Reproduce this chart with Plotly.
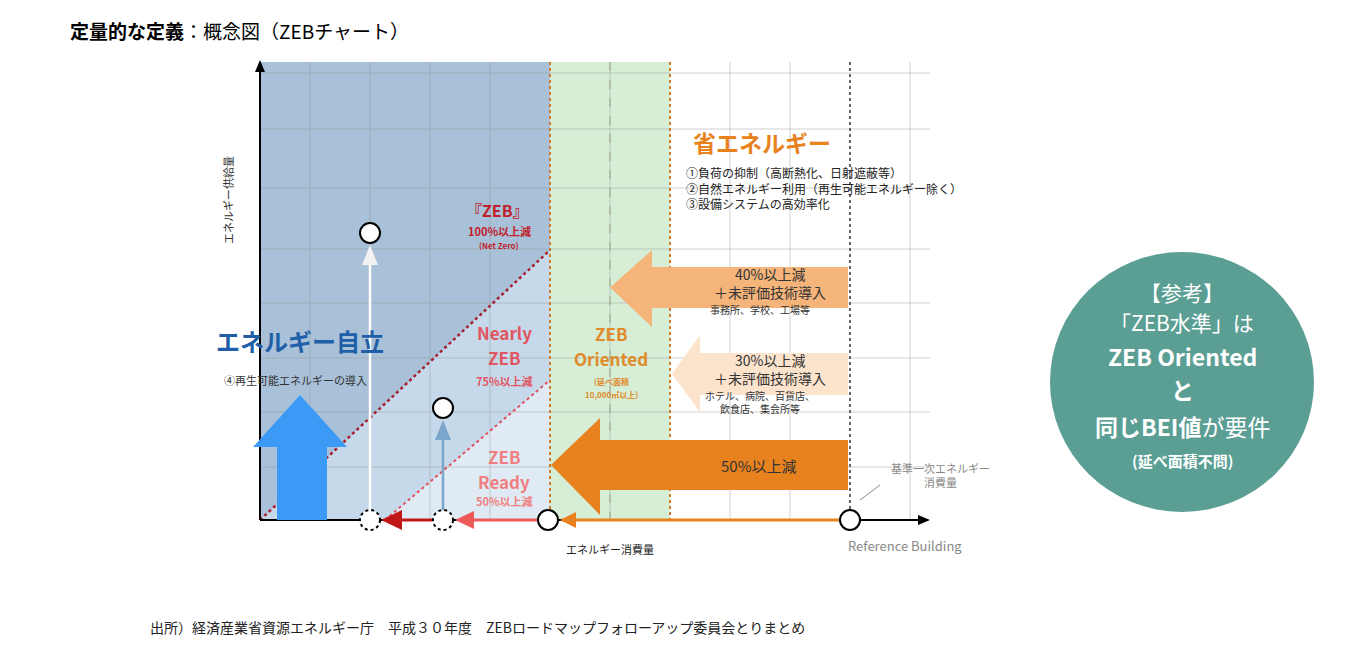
import plotly.graph_objects as go

# 概念図の座標系（画面ピクセル相当）
ORIGIN = (260, 520)
REF_X = 850
ZEB_X = 550
ORIENTED_X = 670
GRID_X = [310, 370, 430, 490, 610, 730, 790, 910]
GRID_Y = [73, 129, 188, 249, 303, 358, 412, 467]

# 白丸（エネルギー消費量・供給量の点）
points_x = [370, 443, 548, 850]
points_y = [233, 408, 520, 520]
dotted_x = [370, 443]

# 省エネ矢印: (先端x, 胴y上, 胴y下, 頭x, 頭y上, 頭y下, 色, ラベル, 用途)
save_arrows = [
    (610, 267, 308, 652, 250, 327, "#f4b47a", ["40%以上減", "＋未評価技術導入"], "事務所、学校、工場等"),
    (672, 353, 395, 700, 335, 412, "#fce3cc", ["30%以上減", "＋未評価技術導入"], "ホテル、病院、百貨店、<br>飲食店、集会所等"),
    (551, 440, 490, 600, 418, 515, "#e8821e", ["50%以上減"], ""),
]

FONT = "Noto Sans CJK JP"
fig = go.Figure()
shapes = []
ann = []

def rect(x0, y0, x1, y1, color):
    shapes.append(dict(type="rect", x0=x0, y0=y0, x1=x1, y1=y1, fillcolor=color, line_width=0, layer="below"))

def poly(pts, color, layer="above"):
    d = "M " + " L ".join(f"{x},{y}" for x, y in pts) + " Z"
    shapes.append(dict(type="path", path=d, fillcolor=color, line_width=0, layer=layer))

def line(x0, y0, x1, y1, color, width=1, dash="solid"):
    shapes.append(dict(type="line", x0=x0, y0=y0, x1=x1, y1=y1, line=dict(color=color, width=width, dash=dash)))

def text(x, y, s, size=12, color="#333", bold=False, **kw):
    if bold:
        s = f"<b>{s}</b>"
    ann.append(dict(x=x, y=y, text=s, showarrow=False, font=dict(family=FONT, size=size, color=color), **kw))

ox, oy = ORIGIN
top = 62
# 背景領域
rect(ox, top, ZEB_X, oy, "#a8c0d8")
poly([(ox, oy), (ZEB_X, 250), (ZEB_X, oy)], "#c6d9ea", layer="below")
poly([(385, oy), (ZEB_X, 380), (ZEB_X, oy)], "#dfeaf4", layer="below")
rect(ZEB_X, top, ORIENTED_X, oy, "#d6eed6")

# グリッド
for gx in GRID_X:
    line(gx, top, gx, oy, "rgba(150,150,150,0.45)", 1)
for gy in GRID_Y:
    line(ox, gy, 930, gy, "rgba(150,150,150,0.45)", 1)
line(610, top, 610, oy, "rgba(140,140,110,0.7)", 1, "dash")
line(ZEB_X, top, ZEB_X, oy, "#d07a2a", 2, "dot")
line(ORIENTED_X, top, ORIENTED_X, oy, "#d07a2a", 2, "dot")
line(REF_X, top, REF_X, oy, "#666", 2, "dot")

# 対角線
line(ox, oy, ZEB_X, 250, "#a82030", 2.5, "dot")
line(385, oy, ZEB_X, 380, "#e05060", 2, "dot")

# 軸
line(ox, oy, 920, oy, "black", 2)
line(ox, oy, ox, top + 8, "black", 2)
poly([(ox, top - 2), (ox - 5, top + 10), (ox + 5, top + 10)], "black")
poly([(930, oy), (918, oy - 5), (918, oy + 5)], "black")

# 消費量削減の矢印（横軸上）
line(562, oy, REF_X - 10, oy, "#e8821e", 3)
poly([(560, oy), (576, oy - 8), (576, oy + 8)], "#e8821e")
line(465, oy, 537, oy, "#ee5a5a", 3)
poly([(455, oy), (474, oy - 9), (474, oy + 9)], "#ee5a5a")
line(392, oy, 432, oy, "#c01818", 3)
poly([(381, oy), (402, oy - 10), (402, oy + 10)], "#c01818")

# 供給量の矢印（縦）
line(370, 510, 370, 262, "white", 2.5)
poly([(370, 245), (362, 265), (378, 265)], "#f2f2f2")
line(443, 510, 443, 435, "#7ba6cc", 2.5)
poly([(443, 420), (435, 440), (451, 440)], "#7ba6cc")

# 大きい青矢印
poly([(277, oy), (277, 447), (253, 447), (300, 395), (347, 447), (327, 447), (327, oy)], "#3a9af6")

# 省エネ矢印
for tip, sy0, sy1, hx, hy0, hy1, col, lab, sub in save_arrows:
    poly([(REF_X - 2, sy0), (hx, sy0), (hx, hy0), (tip, (sy0 + sy1) / 2), (hx, hy1), (hx, sy1), (REF_X - 2, sy1)], col)
    ys = (sy0 + sy1) / 2
    if len(lab) == 2:
        text(770, ys - 14, lab[0], 14, "#333")
        text(770, ys + 4, lab[1], 14, "#333")
        text(760, ys + 22 + (6 if "<br>" in sub else 0), sub, 10, "#333")
    else:
        text(758, ys, lab[0], 15, "#333")

# 丸
for px, py in zip(points_x, points_y):
    shapes.append(dict(type="circle", x0=px - 10, y0=py - 10, x1=px + 10, y1=py + 10,
                       fillcolor="white", line=dict(color="black", width=2)))
for px in dotted_x:
    shapes.append(dict(type="circle", x0=px - 10, y0=oy - 10, x1=px + 10, y1=oy + 10,
                       fillcolor="white", line=dict(color="black", width=2, dash="dot")))

# 文字
text(68, 30, "<b>定量的な定義</b>：概念図（ZEBチャート）", 19, "black", xanchor="left")
text(228, 200, "エネルギー供給量", 11, "#333", textangle=-90)
text(497, 210, "『ZEB』", 16, "#c0202a", bold=True)
text(499, 231, "100%以上減", 11, "#c0202a", bold=True)
text(499, 245, "(Net Zero)", 8, "#c0202a", bold=True)
text(300, 340, "エネルギー自立", 24, "#1f5fa8", bold=True)
text(295, 380, "④再生可能エネルギーの導入", 11, "#333")
text(504, 332, "Nearly", 17, "#e05561", bold=True)
text(504, 357, "ZEB", 17, "#e05561", bold=True)
text(504, 381, "75%以上減", 11, "#e05561", bold=True)
text(504, 456, "ZEB", 17, "#f08080", bold=True)
text(504, 481, "Ready", 17, "#f08080", bold=True)
text(504, 501, "50%以上減", 11, "#f08080", bold=True)
text(611, 333, "ZEB", 17, "#e08a2a", bold=True)
text(611, 358, "Oriented", 17, "#e08a2a", bold=True)
text(611, 381, "(延べ面積", 8, "#e08a2a", bold=True)
text(611, 394, "10,000㎡以上)", 8, "#e08a2a", bold=True)
text(762, 142, "省エネルギー", 23, "#e8821e", bold=True)
text(684, 188, "①負荷の抑制（高断熱化、日射遮蔽等）<br>②自然エネルギー利用（再生可能エネルギー除く）<br>③設備システムの高効率化",
     12, "#222", xanchor="left", align="left")
text(940, 475, "基準一次エネルギー<br>消費量", 11, "#888")
line(880, 485, 860, 500, "#888", 1)
text(610, 549, "エネルギー消費量", 11, "#222")
text(905, 545, "Reference Building", 13, "#888")
text(148, 627, "出所）経済産業省資源エネルギー庁　平成３０年度　ZEBロードマップフォローアップ委員会とりまとめ", 14, "#222", xanchor="left")

# 右の参考円
shapes.append(dict(type="circle", x0=1050, y0=252, x1=1314, y1=512, fillcolor="#5a9e94", line_width=0))
text(1182, 292, "【参考】", 21, "white")
text(1182, 322, "「ZEB水準」は", 21, "white")
text(1182, 356, "ZEB Oriented", 23, "white", bold=True)
text(1182, 389, "と", 23, "white", bold=True)
text(1182, 426, "<b>同じBEI値</b>が要件", 23, "white")
text(1182, 460, "(延べ面積不問)", 15, "white", bold=True)

# ブラウザの余白(8px)を打ち消す
fig.update_layout(
    width=1353, height=660, margin=dict(l=0, r=0, t=0, b=0),
    plot_bgcolor="white", paper_bgcolor="white",
    xaxis=dict(range=[8, 1361], visible=False, fixedrange=True),
    yaxis=dict(range=[668, 8], visible=False, fixedrange=True),
    shapes=shapes, annotations=ann, showlegend=False,
)
fig.write_html("out.html")
